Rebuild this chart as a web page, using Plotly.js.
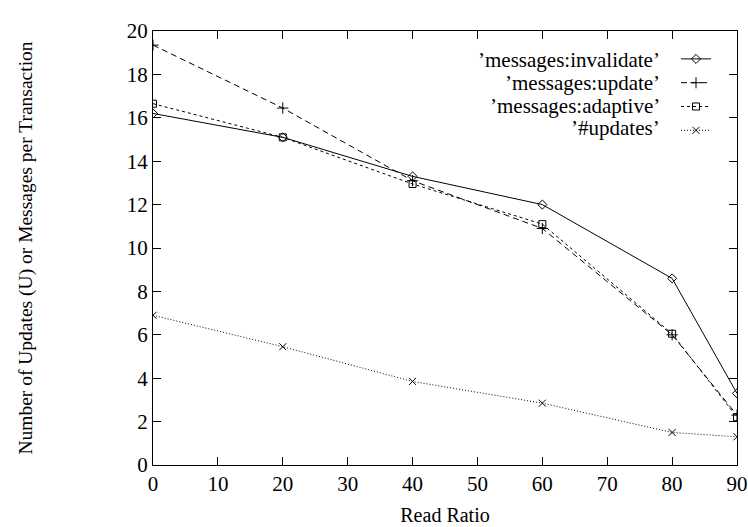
<!DOCTYPE html>
<html>
<head>
<meta charset="utf-8">
<script src="https://cdn.plot.ly/plotly-3.0.1.min.js"></script>
<style>
  html, body { margin: 0; padding: 0; background: #fff; }
  #chart { width: 748px; height: 527px; }
</style>
</head>
<body>
<div id="chart"></div>
<script>
// Read ratio (%) on the x axis
const readRatio = [0, 20, 40, 60, 80, 90];

// Messages / updates per transaction for each protocol
const msgInvalidate = [16.2, 15.1, 13.3, 12.0, 8.6, 3.3];
const msgUpdate     = [19.35, 16.45, 13.1, 10.9, 6.0, 2.3];
const msgAdaptive   = [16.65, 15.1, 12.95, 11.1, 6.05, 2.2];
const numUpdates    = [6.9, 5.45, 3.85, 2.85, 1.5, 1.3];

const seriesNames = ['\u2019messages:invalidate\u2019', '\u2019messages:update\u2019',
                     '\u2019messages:adaptive\u2019', '\u2019#updates\u2019'];
const xTicks = [0, 10, 20, 30, 40, 50, 60, 70, 80, 90];
const yTicks = [0, 2, 4, 6, 8, 10, 12, 14, 16, 18, 20];

const FONT = 'Liberation Serif';

function series(y, dash, symbol, size) {
  return {
    x: readRatio, y: y, type: 'scatter', mode: 'lines+markers',
    name: '',
    line: { color: '#000', width: 1, dash: dash },
    marker: { symbol: symbol, size: size, color: '#000', line: { color: '#000', width: 1 } },
    hoverinfo: 'skip'
  };
}

const traces = [
  series(msgInvalidate, 'solid', 'diamond-open', 7),
  series(msgUpdate, '6px,4px', 'cross-thin-open', 8),
  series(msgAdaptive, '3px,3px', 'square-open', 7),
  series(numUpdates, '1px,2px', 'x-thin-open', 7)
];

// Plot frame in pixels: x 153..737, y 31..465
const L = 153, R = 748 - 737, T = 31, B = 527 - 465;
const plotW = 748 - L - R, plotH = 527 - T - B;

// Legend labels right-aligned, with the library's legend samples to their right
const labelRight = 662;
const rowY = [60, 83, 105.5, 128];
const labelAnnotations = seriesNames.map((name, i) => ({
  xref: 'paper', yref: 'paper',
  x: (labelRight - L) / plotW, y: (527 - B - rowY[i]) / plotH,
  xanchor: 'right', yanchor: 'middle',
  text: name, showarrow: false,
  font: { family: FONT, size: 21, color: '#000' }
}));

const layout = {
  width: 748, height: 527,
  margin: { l: L, r: R, t: T, b: B, pad: 0 },
  paper_bgcolor: '#fff', plot_bgcolor: '#fff',
  font: { family: FONT, size: 20, color: '#000' },
  showlegend: true,
  legend: {
    x: (676 - L) / plotW, y: (527 - B - 42) / plotH,
    xanchor: 'left', yanchor: 'top',
    bgcolor: 'rgba(0,0,0,0)', borderwidth: 0,
    font: { family: FONT, size: 16, color: '#000' },
    tracegroupgap: 0, itemwidth: 30
  },
  xaxis: {
    range: [0, 90], tickvals: xTicks, ticktext: xTicks.map(String),
    ticks: 'inside', ticklen: 8, tickwidth: 1, tickcolor: '#000',
    showline: true, linecolor: '#000', linewidth: 1, mirror: 'ticks',
    showgrid: false, zeroline: false,
    tickfont: { family: FONT, size: 21, color: '#000' },
    title: { text: 'Read Ratio', font: { family: FONT, size: 20, color: '#000' }, standoff: 12 },
    automargin: false
  },
  yaxis: {
    range: [0, 20], tickvals: yTicks, ticktext: yTicks.map(String),
    ticks: 'inside', ticklen: 8, tickwidth: 1, tickcolor: '#000',
    showline: true, linecolor: '#000', linewidth: 1, mirror: 'ticks',
    showgrid: false, zeroline: false,
    tickfont: { family: FONT, size: 21, color: '#000' },
    title: { text: 'Number of Updates (U) or Messages per Transaction',
             font: { family: FONT, size: 19.5, color: '#000' }, standoff: 88 },
    automargin: false
  },
  annotations: labelAnnotations
};

Plotly.newPlot('chart', traces, layout, { displayModeBar: false });
</script>
</body>
</html>
